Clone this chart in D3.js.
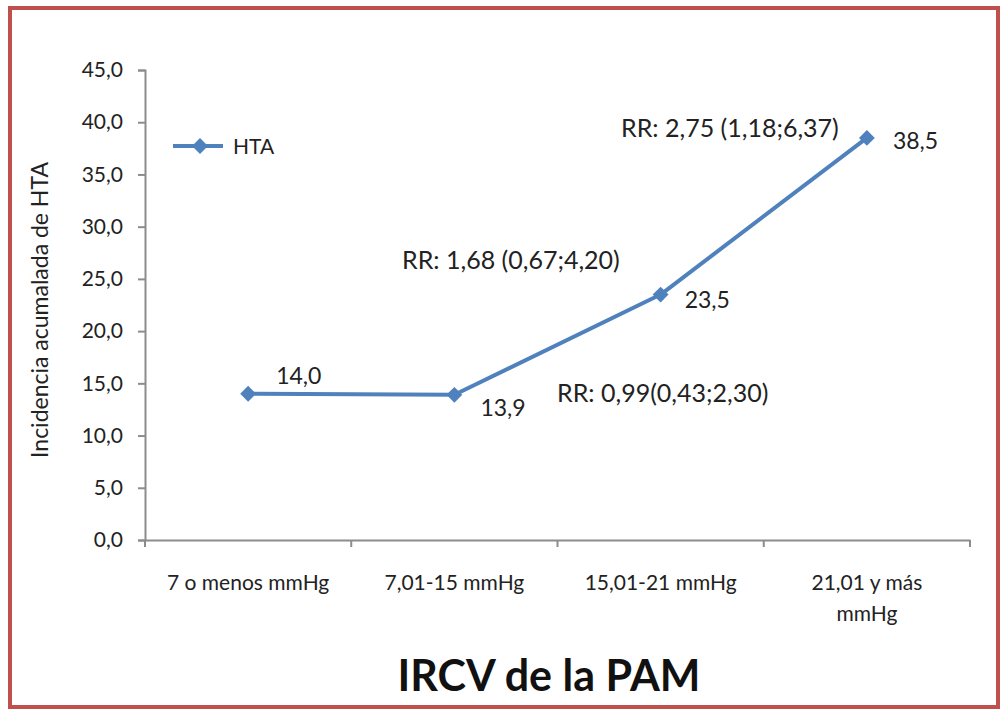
<!DOCTYPE html>
<meta charset="utf-8">
<script src="https://cdn.jsdelivr.net/npm/d3@7/dist/d3.min.js"></script>
<style>
body { margin: 0; background: #fff; }
text { font-family: Lato, "Open Sans", sans-serif; fill: #222; }
.axis path, .axis line { stroke: #8c8c8c; stroke-width: 2px; fill: none; }
.axis text { font-size: 21px; }
</style>
<body>
<div id="chart"></div>
</body>
<script>
var categories = ["7 o menos mmHg", "7,01-15 mmHg", "15,01-21 mmHg", "21,01 y más mmHg"];
var values = [14.0, 13.9, 23.5, 38.5];
var valueLabels = ["14,0", "13,9", "23,5", "38,5"];
var yTicks = [0, 5, 10, 15, 20, 25, 30, 35, 40, 45];
var rrLabels = ["RR: 0,99(0,43;2,30)", "RR: 1,68 (0,67;4,20)", "RR: 2,75 (1,18;6,37)"];

var W = 1007, H = 715;
var margin = {top: 70, left: 145, right: 37, bottom: 175};

var svg = d3.select("#chart").append("svg")
    .attr("width", W)
    .attr("height", H);

svg.append("rect")
    .attr("x", 10).attr("y", 8)
    .attr("width", 988).attr("height", 699)
    .attr("fill", "none")
    .attr("stroke", "#c0504d")
    .attr("stroke-width", 4);

var x = d3.scaleBand().domain(categories).range([margin.left, W - margin.right]);
var y = d3.scaleLinear().domain([0, 45]).range([H - margin.bottom, margin.top]);

var fmt = function(d) { return d3.format(".1f")(d).replace(".", ","); };

var yAxis = svg.append("g")
    .attr("class", "axis")
    .attr("transform", "translate(" + margin.left + ",0)")
    .call(d3.axisLeft(y).tickValues(yTicks).tickFormat(fmt).tickSize(7).tickPadding(15));

var xAxis = svg.append("g")
    .attr("class", "axis")
    .attr("transform", "translate(0," + y(0) + ")")
    .call(d3.axisBottom(x).tickSize(0).tickFormat(""));

// category boundary ticks
var bounds = categories.map(function(c) { return x(c); }).concat([x(categories[3]) + x.bandwidth()]);
xAxis.selectAll(".bound")
    .data(bounds)
    .enter().append("line")
    .attr("x1", function(d) { return d; })
    .attr("x2", function(d) { return d; })
    .attr("y1", 0).attr("y2", 7);

// category labels (wrapped like the original)
var catLines = [["7 o menos mmHg"], ["7,01-15 mmHg"], ["15,01-21 mmHg"], ["21,01 y más", "mmHg"]];
categories.forEach(function(c, i) {
  var t = svg.append("text")
      .attr("x", x(c) + x.bandwidth() / 2)
      .attr("y", y(0) + 50)
      .attr("text-anchor", "middle")
      .style("font-size", "21px");
  catLines[i].forEach(function(l, j) {
    t.append("tspan")
      .attr("x", x(c) + x.bandwidth() / 2)
      .attr("dy", j === 0 ? 0 : 31)
      .text(l);
  });
});

var line = d3.line()
    .x(function(d, i) { return x(categories[i]) + x.bandwidth() / 2; })
    .y(function(d) { return y(d); });

svg.append("path")
    .datum(values)
    .attr("d", line)
    .attr("fill", "none")
    .attr("stroke", "#4f81bd")
    .attr("stroke-width", 4)
    .attr("stroke-linejoin", "round");

var diamond = d3.symbol().type(d3.symbolDiamond2).size(160);

svg.selectAll(".pt")
    .data(values)
    .enter().append("path")
    .attr("class", "pt")
    .attr("d", diamond)
    .attr("fill", "#4f81bd")
    .attr("transform", function(d, i) {
      return "translate(" + (x(categories[i]) + x.bandwidth() / 2) + "," + y(d) + ")";
    });

// value labels
var lblOff = [[28, -10], [26, 21], [24, 13], [26, 11]];
svg.selectAll(".vl")
    .data(values)
    .enter().append("text")
    .attr("x", function(d, i) { return x(categories[i]) + x.bandwidth() / 2 + lblOff[i][0]; })
    .attr("y", function(d, i) { return y(d) + lblOff[i][1]; })
    .style("font-size", "23px")
    .text(function(d, i) { return valueLabels[i]; });

// RR annotations
var rrPos = [[557, 13.2], [402, 25.9], [621, 38.6]];
rrLabels.forEach(function(r, i) {
  svg.append("text")
    .attr("x", rrPos[i][0])
    .attr("y", y(rrPos[i][1]))
    .style("font-size", "25px")
    .text(r);
});

// legend
svg.append("line")
    .attr("x1", 173).attr("x2", 223)
    .attr("y1", 146).attr("y2", 146)
    .attr("stroke", "#4f81bd").attr("stroke-width", 4);
svg.append("path")
    .attr("d", diamond)
    .attr("fill", "#4f81bd")
    .attr("transform", "translate(200,146)");
svg.append("text")
    .attr("x", 233).attr("y", 154)
    .style("font-size", "21px")
    .text("HTA");

// axis titles
svg.append("text")
    .attr("transform", "translate(48," + ((y(0) + y(45)) / 2 + 5) + ") rotate(-90)")
    .attr("text-anchor", "middle")
    .style("font-size", "23px")
    .text("Incidencia acumalada de HTA");

svg.append("text")
    .attr("x", 549).attr("y", 691)
    .attr("text-anchor", "middle")
    .style("font-size", "43px")
    .style("font-weight", "bold")
    .style("fill", "#111")
    .text("IRCV de la PAM");
</script>
